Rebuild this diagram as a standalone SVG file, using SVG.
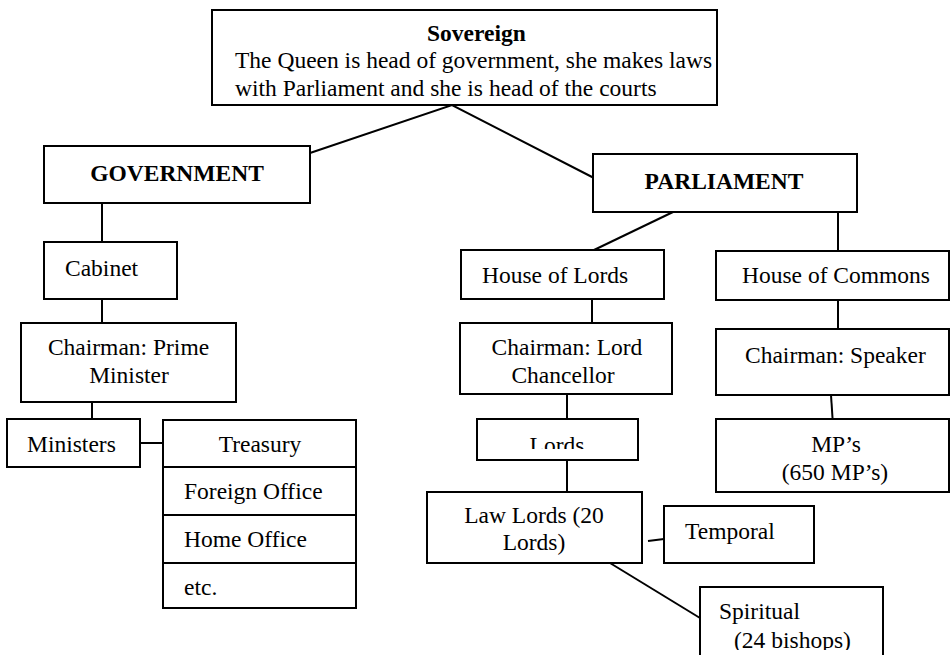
<svg xmlns="http://www.w3.org/2000/svg" width="951" height="655" viewBox="0 0 951 655">
<style>
.box{fill:#fff;stroke:#000;stroke-width:2}
.ln{stroke:#000;stroke-width:2;fill:none}
text{font-family:"Liberation Serif","Times New Roman",serif;font-size:23.5px;fill:#000}
.b{font-weight:bold}
.m{text-anchor:middle}
</style>
<defs>
<clipPath id="clipSov"><rect x="212" y="10" width="505" height="86"/></clipPath>
<clipPath id="clipLords"><rect x="477" y="419" width="161" height="30"/></clipPath>
<clipPath id="clipSpir"><rect x="700" y="587" width="183" height="63"/></clipPath>
</defs>
<rect width="951" height="655" fill="#fff"/>
<g id="connectors">
<polyline class="ln" points="310,153 452,105 594,178"/>
<line class="ln" x1="102" y1="203" x2="102" y2="242"/>
<line class="ln" x1="102" y1="295" x2="102" y2="323"/>
<line class="ln" x1="92" y1="396" x2="92" y2="419"/>
<line class="ln" x1="140" y1="443" x2="163" y2="443"/>
<line class="ln" x1="673" y1="212" x2="594" y2="250"/>
<line class="ln" x1="838" y1="212" x2="838" y2="255"/>
<line class="ln" x1="592" y1="299" x2="592" y2="323"/>
<line class="ln" x1="838" y1="300" x2="838" y2="329"/>
<line class="ln" x1="831" y1="395" x2="833" y2="425"/>
<line class="ln" x1="567" y1="394" x2="567" y2="419"/>
<line class="ln" x1="567" y1="460" x2="567" y2="492"/>
<line class="ln" x1="648" y1="541" x2="664" y2="539"/>
<line class="ln" x1="610" y1="563" x2="700" y2="618"/>
</g>
<g id="sovereign">
<rect class="box" x="212" y="10" width="505" height="95"/>
<g clip-path="url(#clipSov)">
<text class="b" x="427" y="41">Sovereign</text>
<text x="235" y="68">The Queen is head of government, she makes laws</text>
<text x="235" y="96">with Parliament and she is head of the courts</text>
</g>
</g>
<g id="government">
<rect class="box" x="44" y="146" width="266" height="57"/>
<text class="b m" x="177" y="181">GOVERNMENT</text>
</g>
<g id="cabinet">
<rect class="box" x="44" y="242" width="133" height="57"/>
<text x="65" y="276">Cabinet</text>
</g>
<g id="prime-minister">
<rect class="box" x="21" y="323" width="215" height="79"/>
<text class="m" x="128.5" y="355">Chairman: Prime</text>
<text class="m" x="129" y="383">Minister</text>
</g>
<g id="ministers">
<rect class="box" x="7" y="419" width="133" height="48"/>
<text x="27" y="452">Ministers</text>
</g>
<g id="departments">
<rect class="box" x="163" y="420" width="193" height="188"/>
<line class="ln" x1="163" y1="467" x2="356" y2="467"/>
<line class="ln" x1="163" y1="515" x2="356" y2="515"/>
<line class="ln" x1="163" y1="563" x2="356" y2="563"/>
<text class="m" x="260" y="452">Treasury</text>
<text x="184" y="499">Foreign Office</text>
<text x="184" y="547">Home Office</text>
<text x="184" y="595">etc.</text>
</g>
<g id="parliament">
<rect class="box" x="593" y="154" width="264" height="58"/>
<text class="b m" x="724" y="189">PARLIAMENT</text>
</g>
<g id="house-of-lords">
<rect class="box" x="461" y="250" width="203" height="49"/>
<text x="482" y="283">House of Lords</text>
</g>
<g id="lord-chancellor">
<rect class="box" x="460" y="323" width="212" height="71"/>
<text class="m" x="567" y="355">Chairman: Lord</text>
<text class="m" x="563" y="383">Chancellor</text>
</g>
<g id="lords">
<rect class="box" x="477" y="419" width="161" height="41"/>
<text class="m" x="557" y="453" clip-path="url(#clipLords)">Lords</text>
</g>
<g id="law-lords">
<rect class="box" x="427" y="492" width="215" height="71"/>
<text class="m" x="534" y="523">Law Lords (20</text>
<text class="m" x="534" y="550">Lords)</text>
</g>
<g id="temporal">
<rect class="box" x="664" y="506" width="150" height="57"/>
<text x="685" y="539">Temporal</text>
</g>
<g id="spiritual">
<rect class="box" x="700" y="587" width="183" height="80"/>
<g clip-path="url(#clipSpir)">
<text x="719" y="619">Spiritual</text>
<text x="734" y="648">(24 bishops)</text>
</g>
</g>
<g id="house-of-commons">
<rect class="box" x="716" y="251" width="233" height="49"/>
<text x="742" y="283">House of Commons</text>
</g>
<g id="speaker">
<rect class="box" x="716" y="329" width="233" height="66"/>
<text x="745" y="363">Chairman: Speaker</text>
</g>
<g id="mps">
<rect class="box" x="716" y="419" width="233" height="73"/>
<text class="m" x="836" y="452">MP’s</text>
<text class="m" x="835" y="480">(650 MP’s)</text>
</g>
</svg>
